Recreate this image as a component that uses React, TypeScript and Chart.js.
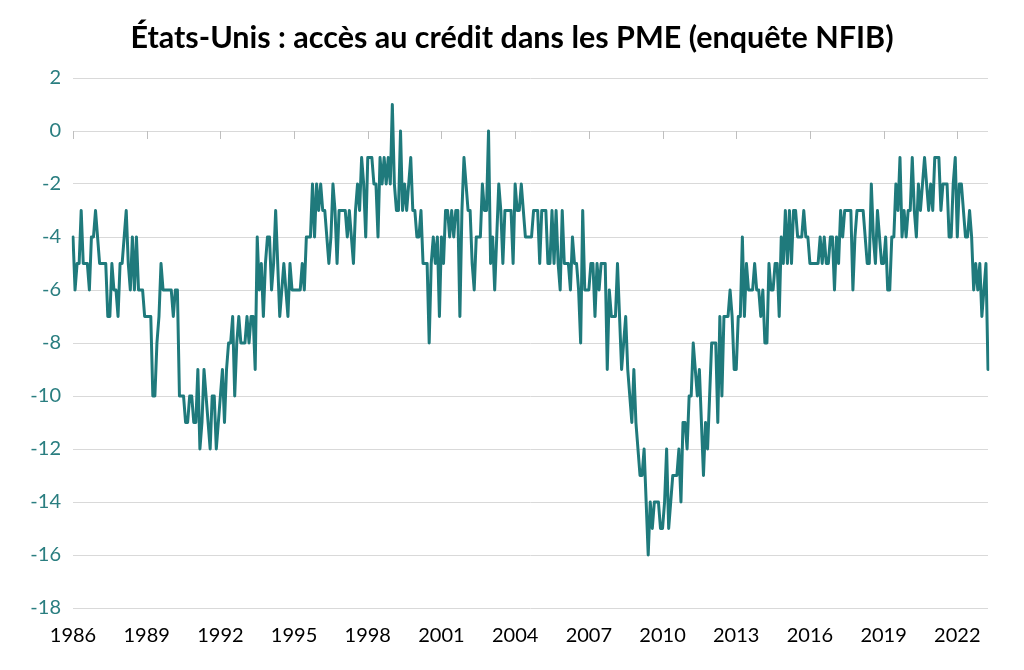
import React, { useEffect, useRef } from 'react';
import { Chart, registerables } from 'chart.js';

Chart.register(...registerables);

const START_YEAR = 1986;

// Monthly net % (NFIB: credit access)
const y1986 = [-4, -6, -5, -5, -3, -5, -5, -5, -6, -4, -4, -3];
const y1987 = [-4, -5, -5, -5, -5, -7, -7, -5, -6, -6, -7, -5];
const y1988 = [-5, -4, -3, -5, -6, -4, -6, -4, -6, -6, -6, -7];
const y1989 = [-7, -7, -7, -10, -10, -8, -7, -5, -6, -6, -6, -6];
const y1990 = [-6, -7, -6, -6, -10, -10, -10, -11, -11, -10, -10, -11];
const y1991 = [-11, -9, -12, -11, -9, -10, -11, -12, -10, -10, -12, -11];
const y1992 = [-10, -9, -11, -9, -8, -8, -7, -10, -8, -7, -8, -8];
const y1993 = [-8, -7, -8, -7, -7, -9, -4, -6, -5, -7, -5, -4];
const y1994 = [-4, -6, -5, -3, -5, -7, -6, -5, -6, -7, -5, -6];
const y1995 = [-6, -6, -6, -6, -5, -6, -4, -4, -4, -2, -4, -2];
const y1996 = [-3, -2, -3, -3, -4, -5, -4, -2, -3, -5, -3, -3];
const y1997 = [-3, -3, -4, -3, -4, -5, -3, -2, -3, -1, -2, -4];
const y1998 = [-1, -1, -1, -2, -2, -4, -1, -2, -1, -2, -1, -2];
const y1999 = [1, -2, -3, -3, 0, -3, -2, -3, -2, -1, -3, -3];
const y2000 = [-4, -4, -3, -5, -5, -5, -8, -5, -4, -5, -4, -7];
const y2001 = [-4, -5, -3, -3, -4, -3, -4, -3, -3, -7, -3, -1];
const y2002 = [-2, -3, -3, -5, -6, -4, -4, -4, -2, -3, -3, 0];
const y2003 = [-5, -4, -6, -4, -2, -3, -5, -3, -3, -3, -3, -5];
const y2004 = [-2, -3, -3, -2, -3, -4, -4, -4, -4, -3, -3, -3];
const y2005 = [-5, -3, -3, -3, -5, -5, -3, -5, -3, -5, -6, -3];
const y2006 = [-5, -5, -5, -6, -4, -5, -5, -6, -8, -3, -6, -6];
const y2007 = [-6, -5, -5, -7, -5, -6, -5, -5, -5, -9, -6, -7];
const y2008 = [-7, -7, -5, -7, -9, -8, -7, -9, -10, -11, -9, -11];
const y2009 = [-12, -13, -13, -12, -14, -16, -14, -15, -14, -14, -14, -15];
const y2010 = [-15, -14, -12, -15, -14, -13, -13, -13, -12, -14, -11, -11];
const y2011 = [-12, -10, -10, -8, -9, -10, -9, -11, -13, -11, -12, -10];
const y2012 = [-8, -8, -8, -11, -7, -10, -7, -7, -7, -6, -7, -9];
const y2013 = [-9, -7, -7, -4, -7, -5, -6, -6, -6, -5, -6, -6];
const y2014 = [-7, -6, -8, -8, -5, -6, -6, -5, -5, -7, -4, -5];
const y2015 = [-3, -5, -3, -5, -3, -3, -4, -4, -4, -3, -4, -4];
const y2016 = [-5, -5, -5, -5, -5, -4, -5, -4, -5, -5, -4, -4];
const y2017 = [-6, -4, -5, -3, -4, -3, -3, -3, -3, -6, -4, -3];
const y2018 = [-3, -3, -3, -4, -5, -5, -2, -4, -5, -3, -4, -5];
const y2019 = [-5, -4, -6, -6, -4, -4, -2, -3, -1, -4, -3, -4];
const y2020 = [-3, -3, -1, -3, -4, -2, -3, -2, -1, -2, -3, -2];
const y2021 = [-3, -1, -1, -1, -3, -2, -2, -2, -4, -4, -2, -1];
const y2022 = [-4, -2, -2, -3, -4, -4, -3, -4, -6, -5, -6, -5];
const y2023 = [-7, -6, -5, -9];

const values: number[] = [
  ...y1986, ...y1987, ...y1988, ...y1989, ...y1990, ...y1991, ...y1992, ...y1993,
  ...y1994, ...y1995, ...y1996, ...y1997, ...y1998, ...y1999, ...y2000, ...y2001,
  ...y2002, ...y2003, ...y2004, ...y2005, ...y2006, ...y2007, ...y2008, ...y2009,
  ...y2010, ...y2011, ...y2012, ...y2013, ...y2014, ...y2015, ...y2016, ...y2017,
  ...y2018, ...y2019, ...y2020, ...y2021, ...y2022, ...y2023,
];

const monthLabels: string[] = values.map(
  (_, i) => `${START_YEAR + Math.floor(i / 12)}-${String((i % 12) + 1).padStart(2, '0')}`
);

const xTickYears = ['1986', '1989', '1992', '1995', '1998', '2001', '2004', '2007', '2010', '2013', '2016', '2019', '2022'];
const TICK_EVERY = 36;

const TITLE = 'États-Unis : accès au crédit dans les PME (enquête NFIB)';
const LINE_COLOR = '#1f7a7c';
const YLABEL_COLOR = '#2a7e80';
const GRID_COLOR = '#d9d9d9';
const FONT = 'Lato, "Open Sans", "DejaVu Sans", sans-serif';

const zeroAxisTicks = {
  id: 'zeroAxisTicks',
  beforeDatasetsDraw(chart: any) {
    const x = chart.scales.x;
    const y = chart.scales.y;
    const ctx = chart.ctx;
    const y0 = y.getPixelForValue(0);
    ctx.save();
    ctx.strokeStyle = '#bfbfbf';
    ctx.lineWidth = 1;
    ctx.beginPath();
    for (let i = 0; i < values.length; i += TICK_EVERY) {
      const px = Math.round(x.getPixelForValue(i)) + 0.5;
      ctx.moveTo(px, y0);
      ctx.lineTo(px, y0 + 8);
    }
    ctx.stroke();
    ctx.restore();
  },
};

export default function App() {
  const ref = useRef<HTMLCanvasElement | null>(null);

  useEffect(() => {
    if (!ref.current) return;
    const chart = new Chart(ref.current, {
      type: 'line',
      data: {
        labels: monthLabels,
        datasets: [
          {
            data: values,
            borderColor: LINE_COLOR,
            borderWidth: 3,
            pointRadius: 0,
            tension: 0,
            borderJoinStyle: 'round',
            borderCapStyle: 'round',
            fill: false,
            yAxisID: 'y',
          },
        ],
      },
      options: {
        animation: false,
        responsive: true,
        maintainAspectRatio: false,
        layout: { padding: 0 },
        plugins: {
          legend: { display: false },
          tooltip: { enabled: false },
          title: {
            display: true,
            text: TITLE,
            color: '#000000',
            font: { family: FONT, size: 30.5, weight: 'bold' },
            padding: { top: 20, bottom: 21.4 },
          },
        },
        scales: {
          x: {
            type: 'category',
            offset: false,
            grid: { display: false, drawTicks: false },
            border: { display: false },
            ticks: {
              autoSkip: false,
              maxRotation: 0,
              minRotation: 0,
              padding: 16,
              color: '#000000',
              font: { family: FONT, size: 20 },
              callback: (_v: any, i: number) =>
                i % TICK_EVERY === 0 ? xTickYears[i / TICK_EVERY] ?? '' : '',
            },
            afterFit: (s: any) => {
              s.height = 62;
            },
          },
          y: {
            position: 'left',
            min: -18,
            max: 2,
            grid: { color: GRID_COLOR, lineWidth: 1, drawTicks: false },
            border: { display: false },
            ticks: {
              stepSize: 2,
              padding: 12,
              color: YLABEL_COLOR,
              font: { family: FONT, size: 20 },
            },
            afterFit: (s: any) => {
              s.width = 73;
            },
          },
          yRightSpace: {
            position: 'right',
            display: true,
            grid: { display: false, drawTicks: false },
            border: { display: false },
            ticks: { display: false },
            afterFit: (s: any) => {
              s.width = 36;
            },
          },
        },
      },
      plugins: [zeroAxisTicks],
    });
    return () => chart.destroy();
  }, []);

  return (
    <div
      style={{
        position: 'absolute',
        left: 0,
        top: 0,
        width: 1024,
        height: 670,
        background: '#ffffff',
      }}
    >
      <canvas ref={ref} />
    </div>
  );
}
